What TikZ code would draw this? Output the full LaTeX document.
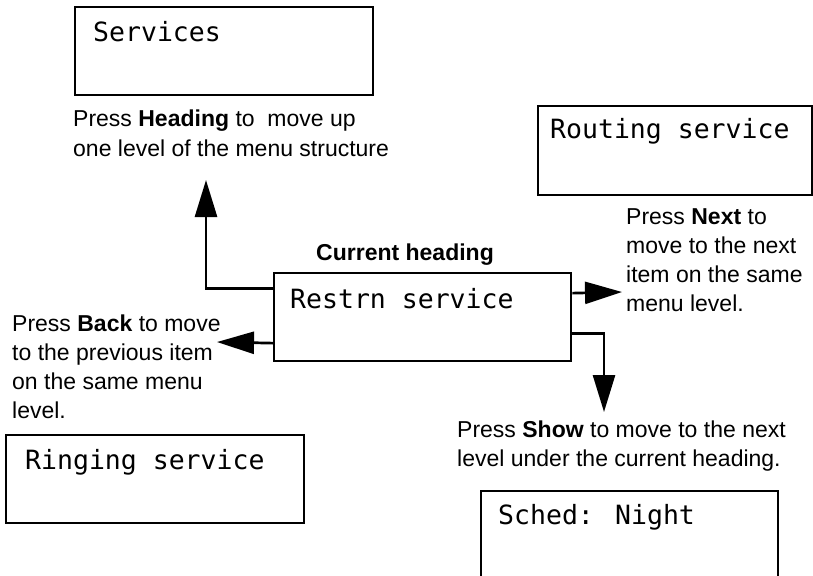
\documentclass[tikz,border=0pt]{standalone}
\usepackage{fontspec}
\setmainfont{Liberation Sans}
\newfontfamily\lcdfont{DejaVu Sans Mono}
\usetikzlibrary{arrows.meta}
\begin{document}
\begin{tikzpicture}[x=1pt,y=-1pt,
  lcdbox/.style={draw,line width=2.3pt,anchor=north west,inner sep=0pt,minimum height=88pt},
  lcdtext/.style={anchor=base west,inner sep=0pt,font=\lcdfont\fontsize{26.5}{30}\selectfont},
  desc/.style={anchor=base west,inner sep=0pt,align=left,font=\fontsize{23}{29}\selectfont},
  conn/.style={line width=2.7pt},
  tip/.style={-{Triangle[length=37pt,width=22pt]}}
]
\useasboundingbox (0,0) rectangle (813,575);
\clip (0,0) rectangle (813,575);
% boxes
\node[lcdbox,minimum width=298pt] (services) at (74,6) {};
\node[lcdbox,minimum width=274pt,minimum height=89pt] (routing) at (537,105) {};
\node[lcdbox,minimum width=297pt] (cur) at (273,272) {};
\node[lcdbox,minimum width=298pt] (ringing) at (5,434) {};
\node[lcdbox,minimum width=297pt,minimum height=120pt] (sched) at (480,490) {};
% box texts
\node[lcdtext] (servicesT) at ([xshift=19pt,yshift=-36pt]services.north west) {Services};
\node[lcdtext] (routingT) at ([xshift=13pt,yshift=-33pt]routing.north west) {Routing service};
\node[lcdtext] (curT) at ([xshift=17pt,yshift=-36pt]cur.north west) {Restrn service};
\node[lcdtext] (ringingT) at ([xshift=20pt,yshift=-35pt]ringing.north west) {Ringing service};
\node[lcdtext] (schedT) at ([xshift=18pt,yshift=-34pt]sched.north west) {Sched: Night};
% labels (anchor = baseline of last line)
\node[desc,font=\bfseries\fontsize{23}{29}\selectfont] (curhead) at (316,260) {Current heading};
\node[desc] (headingD) at (73,156) {Press \textbf{Heading} to~ move up\\one level of the menu structure};
\node[desc] (nextD) at (626,311) {Press \textbf{Next} to\\move to the next\\item on the same\\menu level.};
\node[desc] (backD) at (12,418) {Press \textbf{Back} to move\\to the previous item\\on the same menu\\level.};
\node[desc] (showD) at (457,466) {Press \textbf{Show} to move to the next\\level under the current heading.};
% connectors
\coordinate (upTip) at (206,180);
\coordinate (nextTip) at (622,292);
\coordinate (showTip) at (604,412);
\coordinate (backTip) at (217,342);
\draw[conn,tip] ([yshift=29pt]cur.west) -| (upTip);
\draw[conn,tip] ([yshift=24pt]cur.east) -- (nextTip);
\draw[conn,tip] ([yshift=-16pt]cur.east) -| (showTip);
\draw[conn,tip] ([yshift=-26pt]cur.west) -- (backTip);
\end{tikzpicture}
\end{document}
